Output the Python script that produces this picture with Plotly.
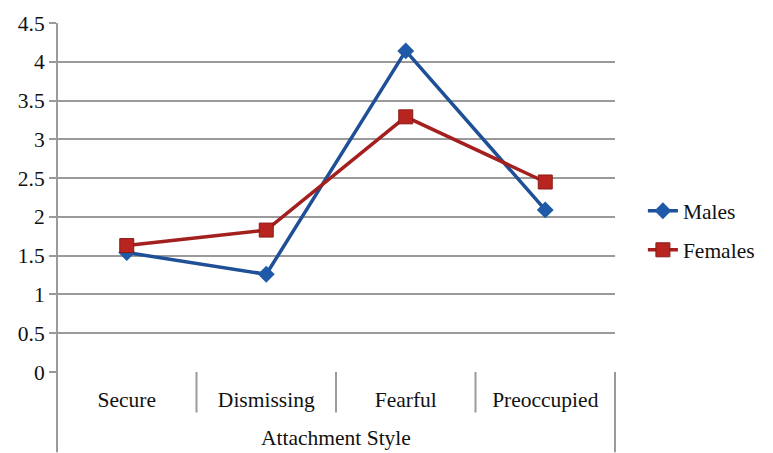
import plotly.graph_objects as go

categories = ["Secure", "Dismissing", "Fearful", "Preoccupied"]
males = [1.54, 1.26, 4.14, 2.09]
females = [1.63, 1.83, 3.29, 2.45]
y_ticks = [0, 0.5, 1, 1.5, 2, 2.5, 3, 3.5, 4, 4.5]
y_tick_labels = ["0", "0.5", "1", "1.5", "2", "2.5", "3", "3.5", "4", "4.5"]
axis_title = "Attachment Style"

FONT = "Liberation Serif, Times New Roman, serif"
FS = 21.5
GRID = "#9a9a9a"

fig = go.Figure()
fig.add_trace(go.Scatter(
    x=categories, y=males, name="Males", mode="lines+markers",
    line=dict(color="#1f4f97", width=3.5),
    marker=dict(symbol="diamond", size=13, color="#1f5aa8", line=dict(width=0)),
    legend="legend", showlegend=True,
))
fig.add_trace(go.Scatter(
    x=categories, y=females, name="Females", mode="lines+markers",
    line=dict(color="#a3201e", width=3.5),
    marker=dict(symbol="square", size=14, color="#b8241f", line=dict(color="#8a1a18", width=1)),
    legend="legend2", showlegend=True,
))

shapes = []
for i in range(1, 4):
    shapes.append(dict(type="line", xref="x", yref="paper", x0=i - 0.5, x1=i - 0.5,
                       y0=0, y1=-0.116, line=dict(color=GRID, width=2)))
shapes.append(dict(type="line", xref="paper", yref="paper", x0=0, x1=0, y0=1, y1=-0.23,
                   line=dict(color=GRID, width=2)))
shapes.append(dict(type="line", xref="paper", yref="paper", x0=1, x1=1, y0=0, y1=-0.23,
                   line=dict(color=GRID, width=2)))

fig.update_layout(
    width=773, height=453,
    margin=dict(l=57, r=158, t=18, b=81),
    showlegend=True,
    paper_bgcolor="white", plot_bgcolor="white",
    font=dict(family=FONT, size=FS, color="#111"),
    xaxis=dict(
        type="category", range=[-0.5, 3.5], showgrid=False, zeroline=False,
        showline=False, ticks="", ticklabelstandoff=12,
        tickfont=dict(family=FONT, size=FS),
    ),
    yaxis=dict(
        range=[0, 4.5], tickvals=y_ticks, ticktext=y_tick_labels,
        showgrid=True, gridcolor=GRID, gridwidth=2, zeroline=False,
        showline=False, ticks="outside", ticklen=7, tickcolor=GRID, tickwidth=2,
        tickfont=dict(family=FONT, size=FS),
    ),
    shapes=shapes,
    annotations=[dict(text=axis_title, xref="paper", yref="paper", x=0.5, y=-0.19,
                      showarrow=False, yanchor="middle", font=dict(family=FONT, size=FS))],
    legend=dict(x=1.05, y=0.462, xanchor="left", yanchor="middle", bgcolor="rgba(0,0,0,0)",
                font=dict(family=FONT, size=FS, color="#111")),
    legend2=dict(x=1.05, y=0.35, xanchor="left", yanchor="middle", bgcolor="rgba(0,0,0,0)",
                 font=dict(family=FONT, size=FS, color="#111")),
)

fig.write_html("out.html", config={"displayModeBar": False},
               post_script="document.body.style.margin='0';")
